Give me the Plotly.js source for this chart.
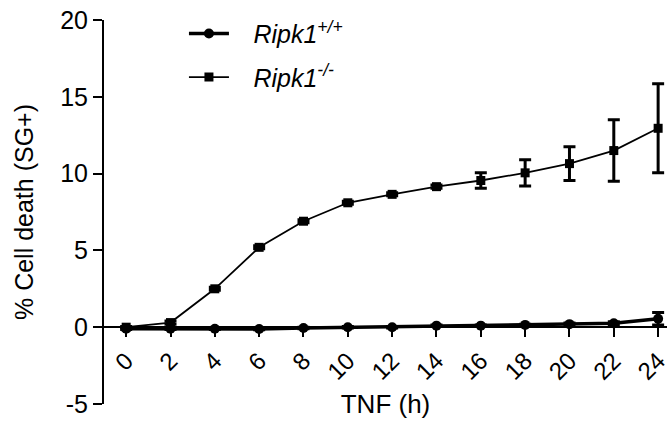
<!DOCTYPE html>
<html>
<head>
<meta charset="utf-8">
<script src="https://cdn.plot.ly/plotly-3.0.1.min.js"></script>
<style>html,body{margin:0;padding:0;background:#fff;}#chart{width:670px;height:425px;}</style>
</head>
<body>
<div id="chart"></div>
<script>
const hours = [0, 2, 4, 6, 8, 10, 12, 14, 16, 18, 20, 22, 24];
const wtValues = [-0.1, -0.1, -0.1, -0.12, -0.05, 0, 0, 0.1, 0.1, 0.15, 0.2, 0.25, 0.55];
const wtErrors = [0.05, 0.05, 0.05, 0.05, 0.05, 0.05, 0.05, 0.05, 0.05, 0.05, 0.08, 0.1, 0.4];
const koValues = [0, 0.3, 2.5, 5.2, 6.9, 8.1, 8.65, 9.15, 9.55, 10.05, 10.65, 11.5, 12.95];
const koErrors = [0.05, 0.1, 0.1, 0.1, 0.1, 0.1, 0.1, 0.1, 0.5, 0.85, 1.1, 2.0, 2.9];
const tickVals = [0, 2, 4, 6, 8, 10, 12, 14, 16, 18, 20, 22, 24];
const tickText = ['0', '2', '4', '6', '8', '10', '12', '14', '16', '18', '20', '22', '24'];
const yTicks = [-5, 0, 5, 10, 15, 20];
const yTickText = ['-5', '0', '5', '10', '15', '20'];
const seriesNames = ['<i>Ripk1<sup>+/+</sup></i>', '<i>Ripk1<sup>-/-</sup></i>'];

const font = 'Liberation Sans, Arial, sans-serif';
const pad = '\u2002\u00a0';

const traces = [
  {
    x: hours, y: wtValues, name: pad + seriesNames[0],
    type: 'scatter', mode: 'lines+markers',
    line: {color: '#000', width: 3.5},
    marker: {symbol: 'circle', size: 10, color: '#000'},
    error_y: {type: 'data', array: wtErrors, visible: true, color: '#000', thickness: 3, width: 6},
    legendgroup: 'a'
  },
  {
    x: hours, y: koValues, name: pad + seriesNames[1],
    type: 'scatter', mode: 'lines+markers',
    line: {color: '#000', width: 1.8},
    marker: {symbol: 'square', size: 9, color: '#000'},
    error_y: {type: 'data', array: koErrors, visible: true, color: '#000', thickness: 3, width: 6},
    legendgroup: 'b'
  }
];

const layout = {
  width: 670, height: 425,
  margin: {l: 104, r: 3, t: 20, b: 21},
  paper_bgcolor: '#fff', plot_bgcolor: '#fff',
  font: {family: font, color: '#000', size: 25},
  showlegend: true,
  legend: {
    x: 0.142, y: 1.024, xanchor: 'left', yanchor: 'top',
    font: {size: 25, family: font},
    traceorder: 'grouped', tracegroupgap: 8,
    itemwidth: 40,
    bgcolor: 'rgba(0,0,0,0)'
  },
  xaxis: {
    range: [-1, 24.4],
    anchor: 'free', position: 0.2,
    tickmode: 'array', tickvals: tickVals, ticktext: tickText,
    tickangle: -45,
    ticklabeloverflow: 'allow',
    ticks: 'outside', ticklen: 9, tickwidth: 2, tickcolor: '#000',
    showline: true, linecolor: '#000', linewidth: 2,
    showgrid: false, zeroline: false,
    tickfont: {size: 24, family: font},
    title: {text: 'TNF (h)', font: {size: 26, family: font}, standoff: 10}
  },
  yaxis: {
    range: [-5, 20],
    tickmode: 'array', tickvals: yTicks, ticktext: yTickText,
    ticks: 'outside', ticklen: 9, tickwidth: 2, tickcolor: '#000',
    showline: true, linecolor: '#000', linewidth: 2,
    showgrid: false, zeroline: false,
    tickfont: {size: 25, family: font},
    title: {text: '% Cell death (SG+)', font: {size: 25, family: font}, standoff: 19}
  }
};

Plotly.newPlot('chart', traces, layout, {displayModeBar: false, staticPlot: true});
</script>
</body>
</html>
